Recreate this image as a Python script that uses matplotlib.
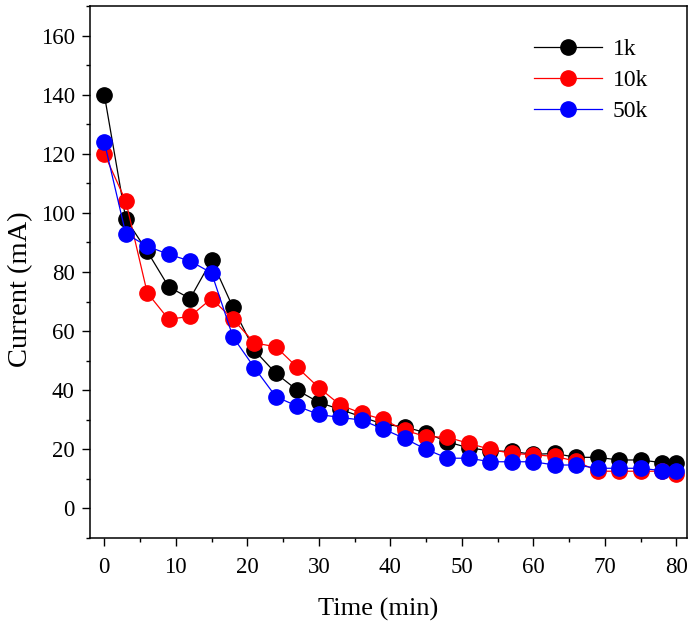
import matplotlib
matplotlib.use("Agg")
import matplotlib.pyplot as plt
from matplotlib.ticker import MultipleLocator

# sampling times (min)
time_min = [0, 3, 6, 9, 12, 15, 18, 21, 24, 27, 30, 33, 36, 39, 42, 45, 48, 51,
            54, 57, 60, 63, 66, 69, 72, 75, 78, 80]

# current (mA) at each frequency
cur_1k = [140, 98, 87, 75, 71, 84, 68, 53.5, 45.7, 40, 35.9, 33.5, 31, 28.5, 27.6, 25.6,
          22.5, 20.5, 19.5, 19.3, 18.3, 18.6, 17.3, 17.3, 16.4, 16.4, 15.5, 15.5]
cur_10k = [120, 104, 73, 64, 65, 71, 64, 56, 54.7, 47.7, 40.9, 35, 32.2, 30.1, 26.5, 24.3,
           24.1, 22, 20, 18.6, 18.2, 17.6, 16, 12.6, 12.6, 12.6, 12.6, 11.5]
cur_50k = [124, 93, 88.7, 86, 83.7, 79.7, 58, 47.6, 37.8, 34.6, 31.8, 30.8, 29.9, 26.9,
           23.7, 20, 17, 17, 15.8, 15.8, 15.8, 14.7, 14.7, 13.6, 13.6, 13.6, 12.8, 12.6]

series = [("1k", cur_1k, "black"), ("10k", cur_10k, "red"), ("50k", cur_50k, "blue")]

plt.rcParams["font.family"] = ["Liberation Serif", "DejaVu Serif"]

fig = plt.figure(figsize=(6.95, 6.3), dpi=100)
ax = fig.add_axes([0.1295, 0.146, 0.859, 0.8445])

for name, vals, col in series:
    ax.plot(time_min, vals, color=col, lw=0.9, marker="o", ms=11,
            markerfacecolor=col, markeredgecolor=col, label=name)

ax.set_xlim(-2, 81.5)
ax.set_ylim(-10, 170)
ax.xaxis.set_major_locator(MultipleLocator(10))
ax.xaxis.set_minor_locator(MultipleLocator(5))
ax.yaxis.set_major_locator(MultipleLocator(20))
ax.yaxis.set_minor_locator(MultipleLocator(10))
ax.tick_params(which="both", direction="out", top=False, right=False, labelsize=16.5, width=1)
ax.tick_params(which="major", length=6)
ax.tick_params(which="minor", length=3)
ax.tick_params(axis="x", pad=8)
ax.tick_params(axis="y", pad=5)
for s in ax.spines.values():
    s.set_linewidth(1.1)

ax.set_xlabel("Time (min)", fontsize=19)
ax.set_ylabel("Current (mA)", fontsize=20.5)
ax.xaxis.set_label_coords(0.483, -0.112)
ax.yaxis.set_label_coords(-0.0955, 0.468)

ax.legend(loc="upper right", frameon=False, fontsize=17, handlelength=2.9,
          bbox_to_anchor=(0.963, 0.97), labelspacing=0.4, handletextpad=0.45,
          borderaxespad=0.3)

fig.savefig("out.png", dpi=100)
